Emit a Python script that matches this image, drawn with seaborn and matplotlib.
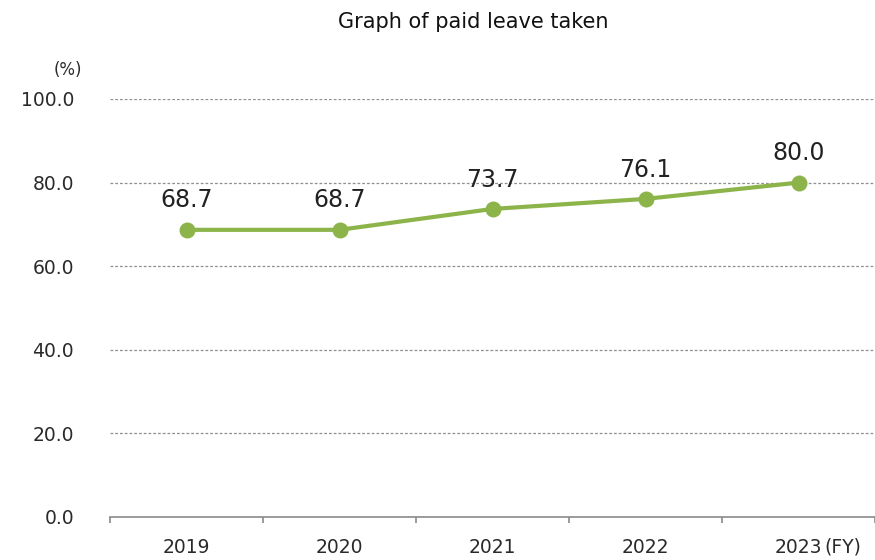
import matplotlib
matplotlib.use("Agg")
import matplotlib.pyplot as plt
import seaborn as sns
import pandas as pd
import numpy as np

years = ["2019", "2020", "2021", "2022", "2023"]
rates = [68.7, 68.7, 73.7, 76.1, 80.0]
y_ticks = [0, 20, 40, 60, 80, 100]

green = "#8CB44A"
sns.set_theme(style="white")
plt.rcParams["font.family"] = ["DejaVu Sans"]

df = pd.DataFrame({"pos": np.arange(len(years)), "rate": rates})

fig = plt.figure(figsize=(8.75, 5.6), dpi=100)
ax = fig.add_axes([110 / 875, 43 / 560, 765 / 875, 418 / 560])

sns.lineplot(data=df, x="pos", y="rate", ax=ax, color=green, linewidth=3,
             marker="o", markersize=11.5, markeredgewidth=0, zorder=3)

for x, v in zip(df["pos"], rates):
    ax.annotate(f"{v:.1f}", (x, v), xytext=(0, 12.5), textcoords="offset points",
                ha="center", va="bottom", fontsize=17, color="#222222", zorder=4)

ax.set_xlim(-0.5, len(years) - 0.5)
ax.set_ylim(0, 100)
ax.set_yticks(y_ticks)
ax.set_yticklabels([f"{t:.1f}" for t in y_ticks], fontsize=13.5, color="#2a2a2a")
for t in y_ticks[1:]:
    ax.axhline(t, color="#8f8f8f", linewidth=0.9, linestyle=(0, (2.2, 1.6)), zorder=1)

ax.set_xticks(df["pos"])
ax.set_xticklabels(years, fontsize=13.5, color="#2a2a2a")
ax.set_xticks(np.arange(-0.5, len(years)), minor=True)
ax.tick_params(axis="x", which="major", bottom=False, length=0, pad=15)
ax.tick_params(axis="x", which="minor", bottom=True, length=4.5, width=1.2,
               color="#8a8a8a", direction="out")
ax.tick_params(axis="y", length=0, pad=26)

for side in ["top", "right", "left"]:
    ax.spines[side].set_visible(False)
ax.spines["bottom"].set_color("#8a8a8a")
ax.spines["bottom"].set_linewidth(1.2)
ax.set_xlabel("")
ax.set_ylabel("")

fig.text(824 / 875, 1 - 547 / 560, "(FY)", ha="left", va="center", fontsize=13.5, color="#2a2a2a")
fig.text(68 / 875, 1 - 70 / 560, "(%)", ha="center", va="center", fontsize=12, color="#2a2a2a")
fig.text(473 / 875, 1 - 22 / 560, "Graph of paid leave taken", ha="center", va="center",
         fontsize=15, color="#111111")

fig.savefig("out.png", dpi=100)
